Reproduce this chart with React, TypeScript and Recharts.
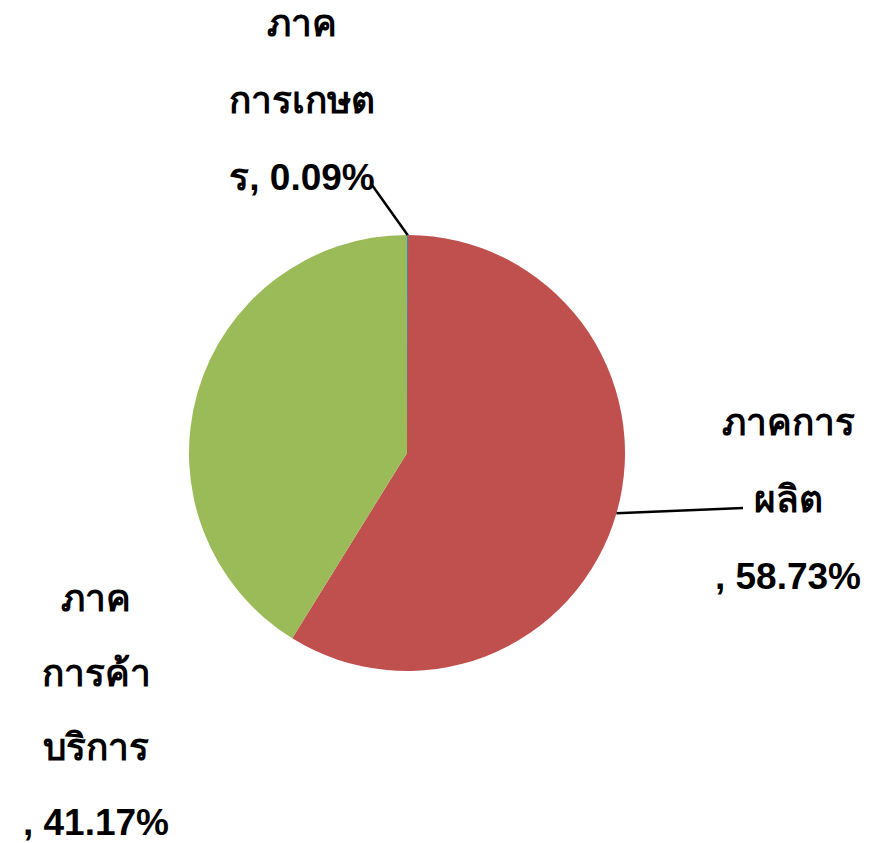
import { PieChart, Pie, Cell } from 'recharts';

const SECTORS = ['ภาคการเกษตร', 'ภาคการผลิต', 'ภาคการค้าบริการ'];
const SHARES = [0.09, 58.73, 41.17];
const COLORS = ['#4F81BD', '#C0504D', '#9BBB59'];
// how each label is wrapped, as Excel broke the lines
const LABEL_LINES = [
  ['ภาค', 'การเกษต', 'ร, 0.09%'],
  ['ภาคการ', 'ผลิต', ', 58.73%'],
  ['ภาค', 'การค้า', 'บริการ', ', 41.17%'],
];

// label placement relative to the pie centre (px)
const LABEL_LAYOUT = [
  { dx: -105, top: -430, step: 77, line: { dx: -35, dy: -268 } },
  { dx: 381, top: -31, step: 77, line: { dx: 336, dy: 55 } },
  { dx: -311, top: 145, step: 74.5, line: null },
];

const data = SECTORS.map((name, i) => ({ name, value: SHARES[i] }));

const RAD = Math.PI / 180;

function renderLabel(props: any) {
  const { cx, cy, midAngle, outerRadius, index } = props;
  const lay = LABEL_LAYOUT[index];
  const lines = LABEL_LINES[index];
  const sx = cx + outerRadius * Math.cos(-midAngle * RAD);
  const sy = cy + outerRadius * Math.sin(-midAngle * RAD);
  return (
    <g key={`lbl-${index}`}>
      {lay.line && (
        <line x1={sx} y1={sy} x2={cx + lay.line.dx} y2={cy + lay.line.dy} stroke="#000" strokeWidth={2.5} />
      )}
      <text
        x={cx + lay.dx}
        y={cy + lay.top}
        textAnchor="middle"
        dominantBaseline="central"
        fontSize={37}
        fontWeight={700}
        fill="#000"
        fontFamily="'Liberation Sans', Arial, sans-serif"
      >
        {lines.map((t, j) => (
          <tspan key={j} x={cx + lay.dx} y={cy + lay.top + j * lay.step}>
            {t}
          </tspan>
        ))}
      </text>
    </g>
  );
}

export default function App() {
  return (
    <div style={{ position: 'absolute', left: 0, top: 0, width: 888, height: 843, background: '#fff' }}>
      <PieChart width={888} height={843} margin={{ top: 0, right: 0, bottom: 0, left: 0 }}>
        <Pie
          data={data}
          dataKey="value"
          nameKey="name"
          cx={407}
          cy={453}
          outerRadius={218}
          startAngle={90}
          endAngle={-270}
          stroke="none"
          label={renderLabel}
          labelLine={false}
          isAnimationActive={false}
        >
          {data.map((_, i) => (
            <Cell key={i} fill={COLORS[i]} stroke={i === 0 ? COLORS[0] : 'none'} strokeWidth={i === 0 ? 1.5 : 0} />
          ))}
        </Pie>
      </PieChart>
    </div>
  );
}
